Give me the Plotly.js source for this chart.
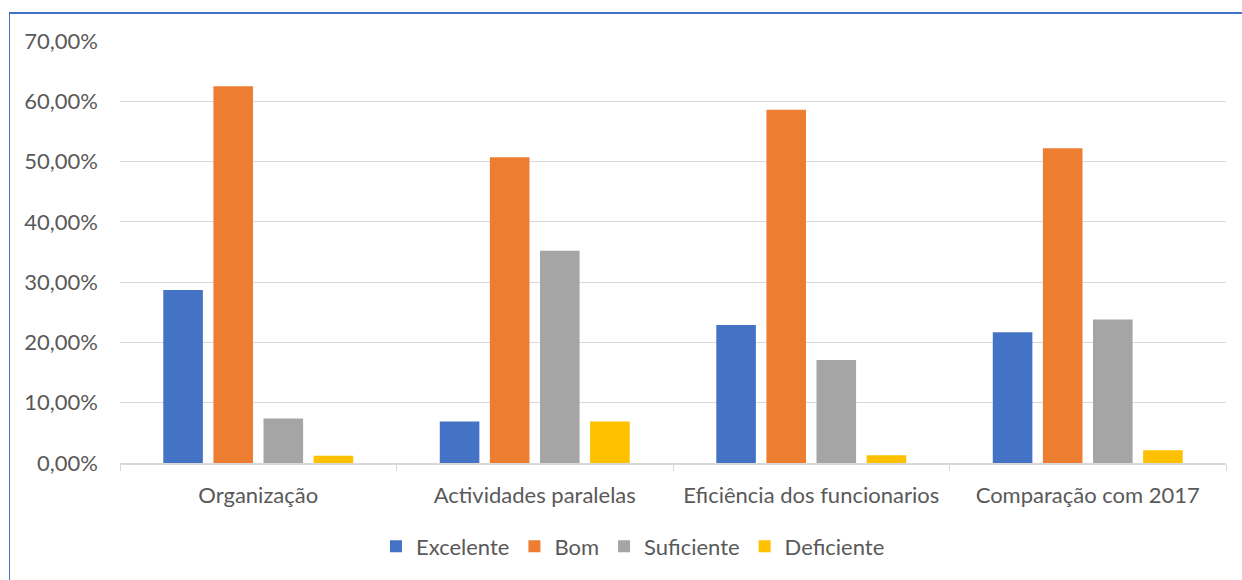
<!DOCTYPE html>
<html>
<head>
<meta charset="utf-8">
<script src="https://cdn.plot.ly/plotly-3.0.1.min.js"></script>
<style>
  html, body { margin: 0; padding: 0; background: #ffffff; }
  #wrap { position: relative; width: 1242px; height: 580px; overflow: hidden; }
  #chart { position: absolute; left: 0; top: 0; width: 1242px; height: 580px; }
  #frame {
    position: absolute; left: 9px; top: 12px; width: 1300px; height: 700px;
    border-left: 1.5px solid #4472C4; border-top: 2px solid #4472C4;
    pointer-events: none;
  }
</style>
</head>
<body>
<div id="wrap">
  <div id="chart"></div>
  <div id="frame"></div>
</div>
<script>
// Survey categories and the share of answers (in %) for each rating
const categories = ["Organização", "Actividades paralelas", "Eficiência dos funcionarios", "Comparação com 2017"];
const excelente  = [28.7, 6.9, 22.9, 21.7];
const bom        = [62.5, 50.7, 58.6, 52.2];
const suficiente = [7.4, 35.2, 17.1, 23.8];
const deficiente = [1.2, 6.9, 1.3, 2.1];

const seriesNames  = ["Excelente", "Bom", "Suficiente", "Deficiente"];
const seriesValues = [excelente, bom, suficiente, deficiente];
const seriesColors = ["#4472C4", "#ED7D31", "#A5A5A5", "#FFC000"];

const textColor = "#595959";
const fontFamily = "Lato, 'Open Sans', sans-serif";
const fontSize = 22;

const traces = seriesNames.map((name, i) => ({
  type: "bar",
  name: name,
  x: categories,
  y: seriesValues[i],
  marker: { color: seriesColors[i] },
  hoverinfo: "skip"
}));

const layout = {
  width: 1242,
  height: 580,
  margin: { l: 120, r: 16, t: 41, b: 115 },
  paper_bgcolor: "#ffffff",
  plot_bgcolor: "#ffffff",
  separators: ",.",
  barmode: "group",
  bargap: 0.275,
  bargroupgap: 0.21,
  font: { family: fontFamily, size: fontSize, color: textColor },
  xaxis: {
    type: "category",
    showgrid: false,
    showline: true,
    linecolor: "#d9d9d9",
    linewidth: 1.5,
    ticks: "outside",
    tickson: "boundaries",
    ticklen: 6,
    tickcolor: "#d9d9d9",
    tickwidth: 1,
    tickfont: { family: fontFamily, size: fontSize, color: textColor },
    ticklabelstandoff: 12,
    zeroline: false
  },
  yaxis: {
    range: [0, 70],
    dtick: 10,
    tick0: 0,
    tickformat: ".2f",
    ticksuffix: "%",
    showgrid: true,
    gridcolor: "#d9d9d9",
    gridwidth: 1,
    showline: false,
    zeroline: false,
    ticks: "",
    ticklabelstandoff: 21,
    tickfont: { family: fontFamily, size: fontSize, color: textColor }
  },
  showlegend: true,
  legend: {
    orientation: "h",
    x: 0.4638,
    xanchor: "center",
    y: -0.198,
    yanchor: "middle",
    font: { family: fontFamily, size: fontSize, color: textColor },
    bgcolor: "rgba(0,0,0,0)"
  }
};

Plotly.newPlot("chart", traces, layout, { staticPlot: true, displayModeBar: false });
</script>
</body>
</html>
